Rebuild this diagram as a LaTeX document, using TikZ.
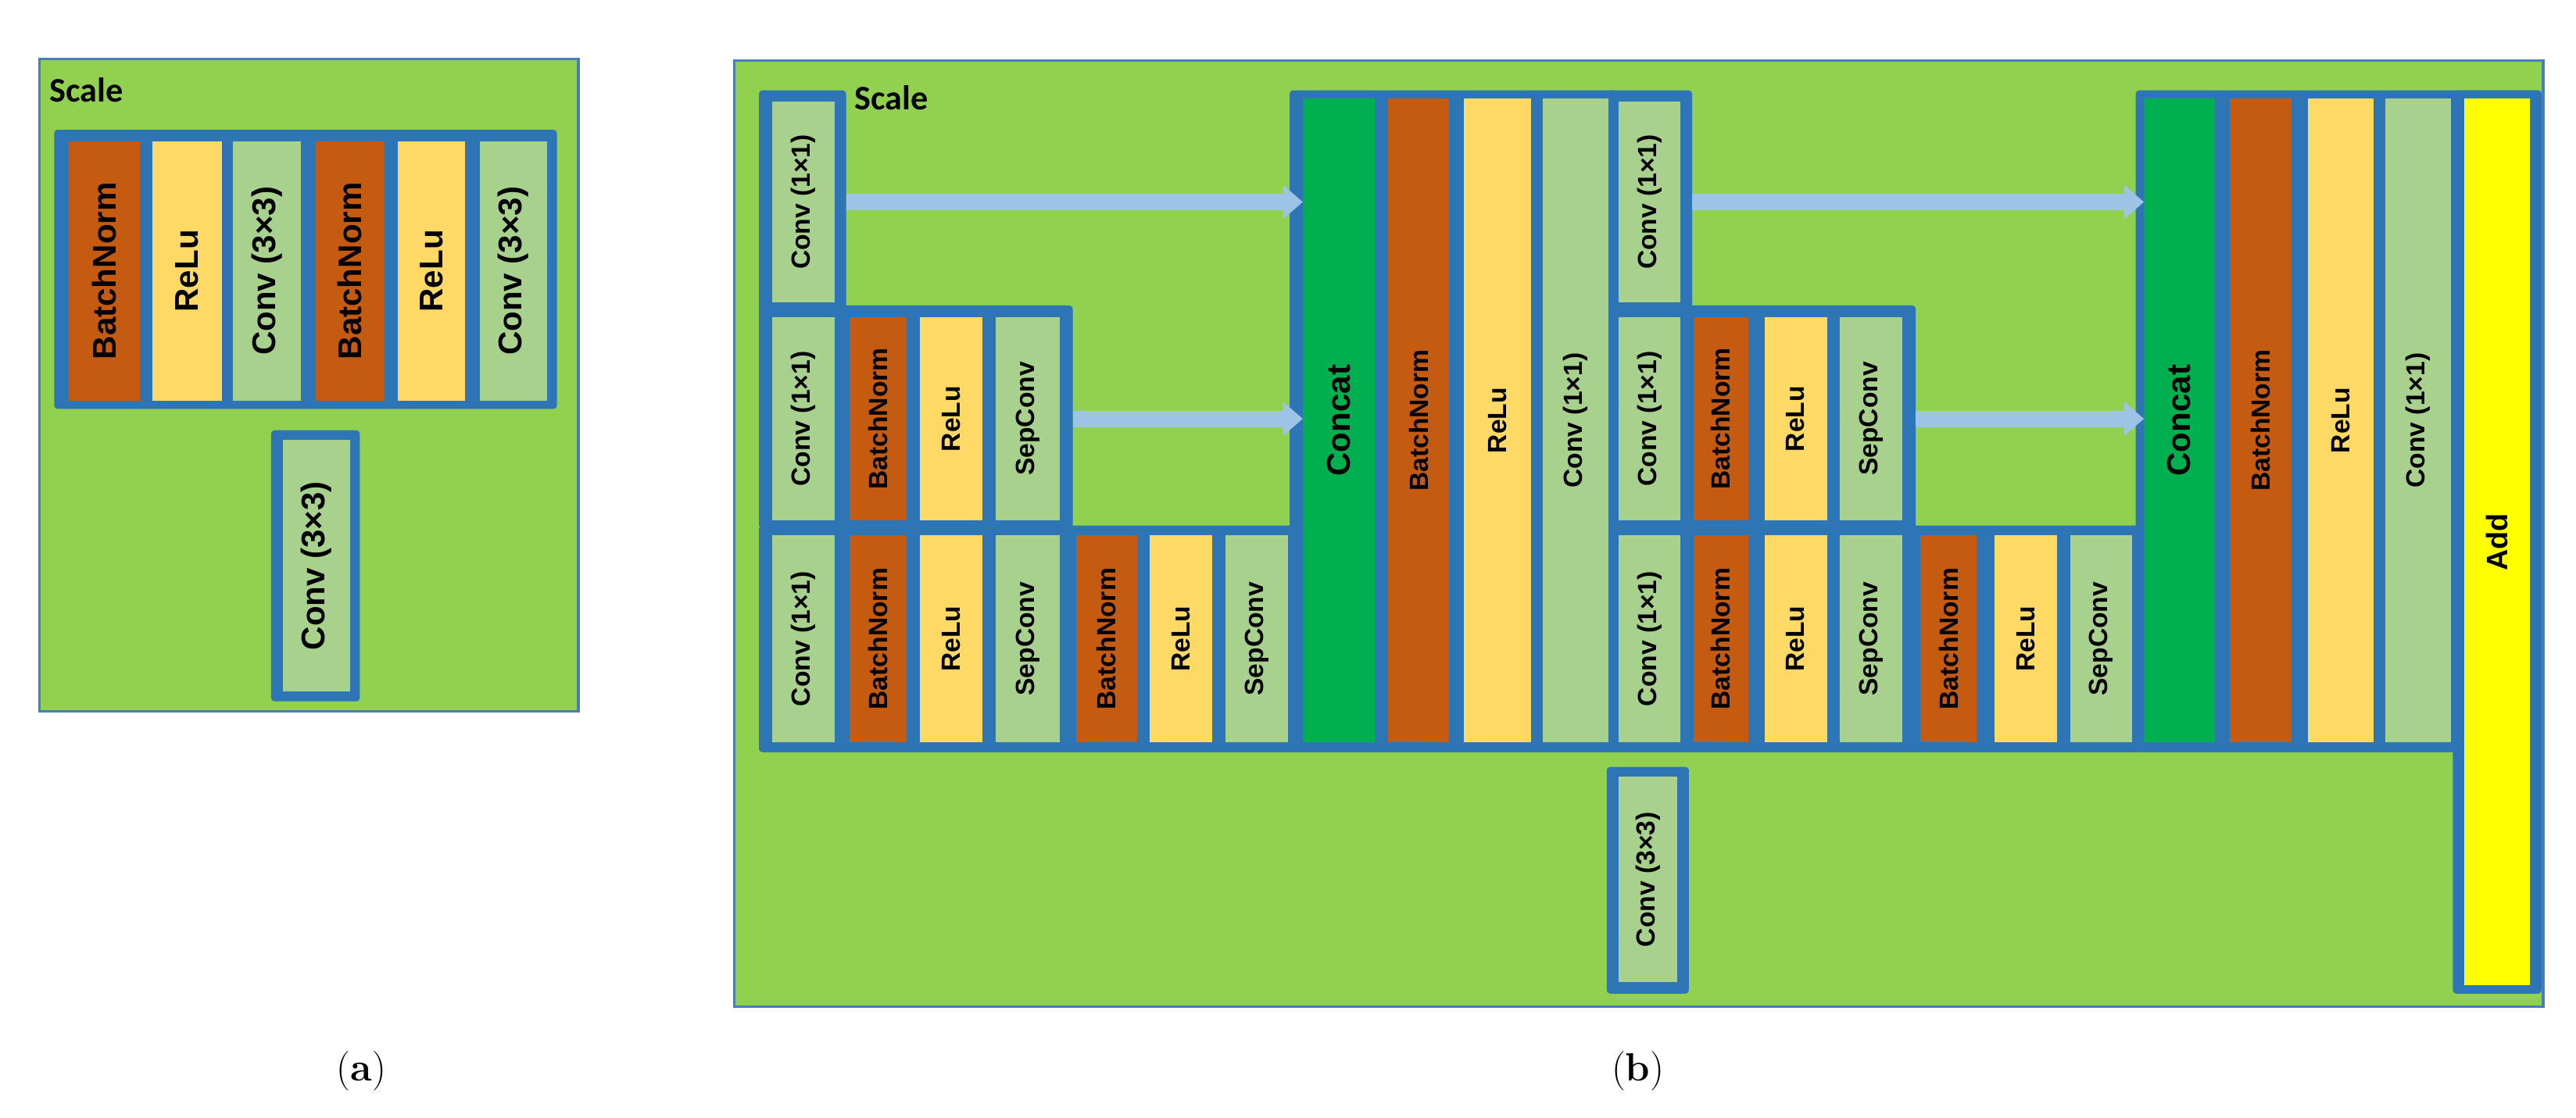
\documentclass[tikz,border=0pt]{standalone}
\usepackage{fontspec}
\setmainfont{Latin Modern Roman}
\newfontfamily\lab{Liberation Sans}
\newfontfamily\scl{Carlito}
\usetikzlibrary{arrows.meta}
\definecolor{bg}{HTML}{92D050}
\definecolor{frm}{HTML}{2E75B6}
\definecolor{obord}{HTML}{4A7EBB}
\definecolor{bn}{HTML}{C55A11}
\definecolor{relu}{HTML}{FFD966}
\definecolor{conv}{HTML}{A9D18E}
\definecolor{cat}{HTML}{00B050}
\definecolor{addc}{HTML}{FFFF00}
\definecolor{arr}{HTML}{9DC3E6}
\tikzset{
  frame/.style={fill=frm, draw=none, rounded corners=2pt, inner sep=0, outer sep=0},
  blk/.style={draw=none, inner sep=0, outer sep=0},
  panel/.style={fill=bg, draw=obord, line width=1.5pt},
  flow/.style={line width=10pt, draw=arr, -{Triangle[length=12pt,width=20pt]}, shorten <=0pt},
}
% \fr{name}{x1}{y1}{x2}{y2}
\newcommand{\fr}[5]{\node[frame, minimum width={(#4-#2)*1pt}, minimum height={(#5-#3)*1pt}] (#1) at ({(#2+#4)/2},{(#3+#5)/2}) {};}
% \bk{name}{x1}{y1}{x2}{y2}{colour}{size}{text}
\newcommand{\bk}[8]{\node[blk, fill=#6, minimum width={(#4-#2)*1pt}, minimum height={(#5-#3)*1pt}] (#1) at ({(#2+#4)/2},{(#3+#5)/2}) {\rotatebox{90}{\fontsize{#7}{#7}\lab\bfseries #8}};}
\begin{document}
\begin{tikzpicture}[x=1pt,y=-1pt]
\useasboundingbox (0,0) rectangle (1568,680.3);
\fill[white] (0,0) rectangle (1568,680.3);
% ---------- panel (a)
\draw[panel] (24,36) rectangle (352,433);
\node[anchor=north west, inner sep=0] (sa) at (30,47) {\fontsize{21}{21}\scl\bfseries Scale};
\fr{fa}{33}{79}{339}{249}
\bk{a1}{42}{86}{85}{244}{bn}{20}{BatchNorm}
\bk{a2}{93}{86}{135}{244}{relu}{20}{ReLu}
\bk{a3}{142}{86}{183}{244}{conv}{20}{Conv (3×3)}
\bk{a4}{192}{86}{234}{244}{bn}{20}{BatchNorm}
\bk{a5}{242}{86}{283}{244}{relu}{20}{ReLu}
\bk{a6}{292}{86}{333}{244}{conv}{20}{Conv (3×3)}
\fr{fb}{165}{262}{219}{427}
\bk{a7}{172}{268}{213}{421}{conv}{20}{Conv (3×3)}
\node (capa) at (220,652) {\fontsize{24}{24}\selectfont(\textbf{a})};
% ---------- panel (b)
\draw[panel] (447,37) rectangle (1548,613);
\node[anchor=north west, inner sep=0] (sb) at (520,52) {\fontsize{21}{21}\scl\bfseries Scale};
\fr{F1}{462}{55}{515}{190}
\fr{F2}{462}{186}{653}{322}
\fr{F3}{462}{320}{790}{458}
\fr{FC}{785}{55}{985}{458}
\fr{G1}{978}{55}{1030}{190}
\fr{G2}{978}{186}{1166}{322}
\fr{G3}{978}{320}{1303}{458}
\fr{GC}{1300}{55}{1547}{458}
\fr{GA}{1493}{55}{1547}{605}
\fr{GB}{978}{467}{1028}{605}
% module 1
\bk{b11}{470}{62}{508}{184}{conv}{16}{Conv (1×1)}
\bk{b21}{470}{193}{508}{317}{conv}{16}{Conv (1×1)}
\bk{b22}{517}{193}{552}{317}{bn}{16}{BatchNorm}
\bk{b23}{560}{193}{598}{317}{relu}{16}{ReLu}
\bk{b24}{606}{193}{645}{317}{conv}{16}{SepConv}
\bk{b31}{470}{326}{508}{452}{conv}{16}{Conv (1×1)}
\bk{b32}{517}{326}{552}{452}{bn}{16}{BatchNorm}
\bk{b33}{560}{326}{598}{452}{relu}{16}{ReLu}
\bk{b34}{606}{326}{645}{452}{conv}{16}{SepConv}
\bk{b35}{655}{326}{692}{452}{bn}{16}{BatchNorm}
\bk{b36}{700}{326}{738}{452}{relu}{16}{ReLu}
\bk{b37}{746}{326}{784}{452}{conv}{16}{SepConv}
\bk{c1}{793}{60}{837}{452}{cat}{20}{Concat}
\bk{c2}{845}{60}{882}{452}{bn}{16}{BatchNorm}
\bk{c3}{891}{60}{932}{452}{relu}{16}{ReLu}
\bk{c4}{939}{60}{979}{452}{conv}{16}{Conv (1×1)}
% module 2
\bk{d11}{985}{62}{1023}{184}{conv}{16}{Conv (1×1)}
\bk{d21}{985}{193}{1023}{317}{conv}{16}{Conv (1×1)}
\bk{d22}{1031}{193}{1064}{317}{bn}{16}{BatchNorm}
\bk{d23}{1074}{193}{1112}{317}{relu}{16}{ReLu}
\bk{d24}{1120}{193}{1158}{317}{conv}{16}{SepConv}
\bk{d31}{985}{326}{1023}{452}{conv}{16}{Conv (1×1)}
\bk{d32}{1031}{326}{1064}{452}{bn}{16}{BatchNorm}
\bk{d33}{1074}{326}{1112}{452}{relu}{16}{ReLu}
\bk{d34}{1120}{326}{1158}{452}{conv}{16}{SepConv}
\bk{d35}{1169}{326}{1203}{452}{bn}{16}{BatchNorm}
\bk{d36}{1214}{326}{1252}{452}{relu}{16}{ReLu}
\bk{d37}{1260}{326}{1298}{452}{conv}{16}{SepConv}
\bk{e1}{1305}{60}{1348}{452}{cat}{20}{Concat}
\bk{e2}{1357}{60}{1395}{452}{bn}{16}{BatchNorm}
\bk{e3}{1405}{60}{1445}{452}{relu}{16}{ReLu}
\bk{e4}{1452}{60}{1492}{452}{conv}{16}{Conv (1×1)}
\bk{e5}{1500}{60}{1540}{600}{addc}{18}{Add}
\bk{g1}{985}{473}{1021}{598}{conv}{16}{Conv (3×3)}
% arrows
\draw[flow] (F1.east |- b11.center) -- (c1.west |- b11.center);
\draw[flow] (F2.east |- b24.center) -- (c1.west |- b24.center);
\draw[flow] (G1.east |- d11.center) -- (e1.west |- d11.center);
\draw[flow] (G2.east |- d24.center) -- (e1.west |- d24.center);
\node (capb) at (997,652) {\fontsize{24}{24}\selectfont(\textbf{b})};
\end{tikzpicture}
\end{document}
